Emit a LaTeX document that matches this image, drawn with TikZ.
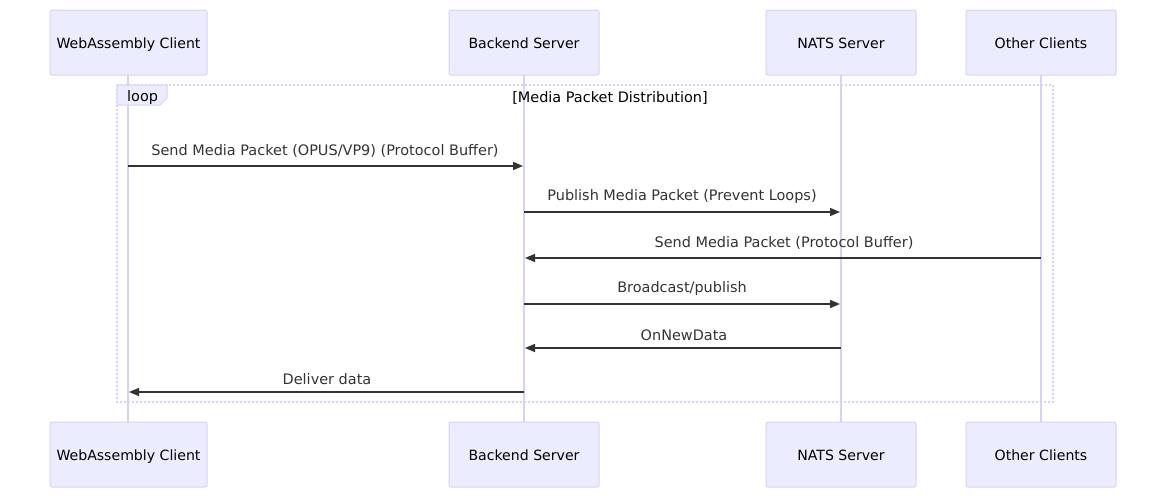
\documentclass[tikz,border=0pt]{standalone}
\usepackage{fontspec}
\setmainfont{DejaVu Sans}
\usetikzlibrary{arrows.meta}
\definecolor{actfill}{HTML}{ECECFF}
\definecolor{actline}{HTML}{D9D1F5}
\definecolor{msgcol}{HTML}{333333}
\tikzset{
  actor/.style={draw=actline, line width=1pt, fill=actfill, rounded corners=2pt,
    minimum width=150pt, minimum height=65pt, inner sep=0pt,
    text height=12.4pt, text depth=1pt,
    font=\fontsize{14.1}{16}\selectfont},
  lifeline/.style={draw=actline, line width=2pt},
  msg/.style={draw=msgcol, line width=1.5pt, -{Triangle[length=10pt,width=8pt]}},
  msglabel/.style={font=\fontsize{14.45}{16}\selectfont, text=msgcol, inner sep=0pt},
  loopline/.style={draw=actline, line width=1.6pt, dash pattern=on 2pt off 2pt},
}
\begin{document}
\begin{tikzpicture}[x=1pt,y=-1pt]
\useasboundingbox (0,0) rectangle (1167,498);
% lifelines
\foreach \n/\x in {w/128,b/524,n/841,o/1041}{
  \coordinate (\n top) at (\x,75);
  \coordinate (\n bot) at (\x,422);
  \draw[lifeline] (\n top) -- (\n bot);
}
% actors
\node[actor, minimum width=157pt] (wt) at (128.5,42.5) {WebAssembly Client};
\node[actor] (bt) at (524,42.5) {Backend Server};
\node[actor] (nt) at (841,42.5) {NATS Server};
\node[actor] (ot) at (1041,42.5) {Other Clients};
\node[actor, minimum width=157pt] (wb) at (128.5,454.5) {WebAssembly Client};
\node[actor] (bb) at (524,454.5) {Backend Server};
\node[actor] (nb) at (841,454.5) {NATS Server};
\node[actor] (ob) at (1041,454.5) {Other Clients};
% loop frame
\coordinate (l1) at (117,85);
\coordinate (l2) at (1053,402);
\draw[loopline] (l1) rectangle (l2);
\path[fill=actfill, draw=actline, line width=1pt] (117,85) -- (167,85) -- (167,98) -- (160,105) -- (117,105) -- cycle;
\node[msglabel, text=black, anchor=west] (looplbl) at (127,97.5) {loop};
\node[msglabel, text=black] (loopcond) at (610,97.5) {[Media Packet Distribution]};
% messages
\coordinate (m1a) at (128,166); \coordinate (m1b) at (523,166);
\coordinate (m2a) at (524,212); \coordinate (m2b) at (840,212);
\coordinate (m3a) at (1041,258); \coordinate (m3b) at (525,258);
\coordinate (m4a) at (524,304); \coordinate (m4b) at (840,304);
\coordinate (m5a) at (841,348); \coordinate (m5b) at (525,348);
\coordinate (m6a) at (524,392); \coordinate (m6b) at (129,392);
\draw[msg] (m1a) -- (m1b);
\draw[msg] (m2a) -- (m2b);
\draw[msg] (m3a) -- (m3b);
\draw[msg] (m4a) -- (m4b);
\draw[msg] (m5a) -- (m5b);
\draw[msg] (m6a) -- (m6b);
\node[msglabel] (t1) at (325,151) {Send Media Packet (OPUS/VP9) (Protocol Buffer)};
\node[msglabel] (t2) at (682,197) {Publish Media Packet (Prevent Loops)};
\node[msglabel] (t3) at (784,243) {Send Media Packet (Protocol Buffer)};
\node[msglabel] (t4) at (682,289) {Broadcast/publish};
\node[msglabel] (t5) at (684,335) {OnNewData};
\node[msglabel] (t6) at (327,379) {Deliver data};
\end{tikzpicture}
\end{document}
